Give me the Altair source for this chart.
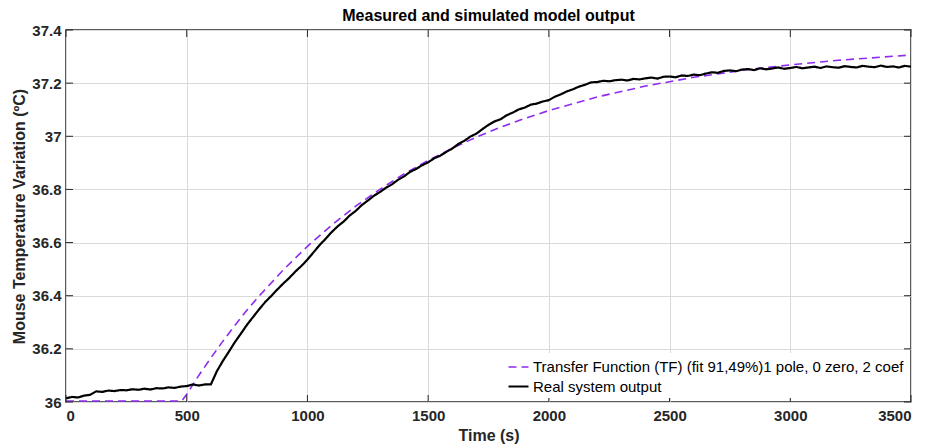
import altair as alt
import pandas as pd

# ---------------- data ----------------
TF_LABEL = "Transfer Function (TF) (fit 91,49%)1 pole, 0 zero, 2 coef"
REAL_LABEL = "Real system output"

real_time = list(range(0, 3501, 25))
real_temp = [
    36.014, 36.019, 36.017, 36.024, 36.027, 36.040, 36.038, 36.043, 36.041, 36.045,
    36.044, 36.048, 36.046, 36.050, 36.047, 36.052, 36.051, 36.055, 36.053, 36.058,
    36.060, 36.066, 36.062, 36.066, 36.066, 36.116, 36.155, 36.190, 36.226, 36.258,
    36.291, 36.320, 36.349, 36.376, 36.399, 36.423, 36.446, 36.467, 36.491, 36.512,
    36.536, 36.563, 36.590, 36.614, 36.639, 36.661, 36.679, 36.702, 36.719, 36.741,
    36.758, 36.776, 36.790, 36.806, 36.819, 36.836, 36.849, 36.866, 36.877, 36.891,
    36.902, 36.917, 36.927, 36.941, 36.954, 36.971, 36.983, 36.999, 37.010, 37.027,
    37.043, 37.056, 37.064, 37.079, 37.089, 37.101, 37.108, 37.119, 37.123, 37.131,
    37.136, 37.149, 37.158, 37.169, 37.177, 37.187, 37.194, 37.203, 37.204, 37.209,
    37.207, 37.211, 37.213, 37.210, 37.216, 37.214, 37.218, 37.221, 37.217, 37.224,
    37.225, 37.222, 37.229, 37.227, 37.232, 37.230, 37.236, 37.241, 37.239, 37.246,
    37.248, 37.245, 37.251, 37.253, 37.249, 37.256, 37.252, 37.255, 37.259, 37.254,
    37.257, 37.261, 37.256, 37.259, 37.262, 37.257, 37.263, 37.260, 37.258, 37.264,
    37.261, 37.259, 37.265, 37.262, 37.260, 37.266, 37.261, 37.263, 37.259, 37.265,
    37.262,
]

tf_time = [0, 480, 500, 550, 600, 650, 700, 750, 800, 900, 1000, 1100, 1200, 1300,
           1400, 1500, 1600, 1700, 1800, 1900, 2000, 2200, 2400, 2600, 2800, 3000,
           3200, 3500]
tf_temp = [36.004, 36.004, 36.029, 36.100, 36.166, 36.229, 36.289, 36.346, 36.399,
           36.497, 36.586, 36.665, 36.737, 36.800, 36.858, 36.909, 36.955, 36.997,
           37.034, 37.067, 37.097, 37.148, 37.189, 37.222, 37.248, 37.269, 37.286,
           37.306]

x_ticks = [0, 500, 1000, 1500, 2000, 2500, 3000, 3500]
y_ticks = [36.0, 36.2, 36.4, 36.6, 36.8, 37.0, 37.2, 37.4]

assert len(real_time) == len(real_temp)
assert len(tf_time) == len(tf_temp)

df = pd.concat([
    pd.DataFrame({"t": tf_time, "v": tf_temp, "series": TF_LABEL}),
    pd.DataFrame({"t": real_time, "v": real_temp, "series": REAL_LABEL}),
], ignore_index=True)
xt = pd.DataFrame({"v": x_ticks})
yt = pd.DataFrame({"v": y_ticks})

W, H = 845, 372
FONT = "Liberation Sans"
DARK = "#262626"

x_scale = alt.Scale(domain=[0, 3500], nice=False, zero=False)
y_scale = alt.Scale(domain=[36, 37.4], nice=False, zero=False)

base = alt.Chart(df).mark_line(clip=True).encode(
    x=alt.X("t:Q", scale=x_scale, title="Time (s)",
            axis=alt.Axis(values=x_ticks, format="d", labelPadding=6,
                          titlePadding=4)),
    y=alt.Y("v:Q", scale=y_scale, title="Mouse Temperature Variation (ºC)",
            axis=alt.Axis(values=y_ticks, format="~g", labelPadding=5,
                          titlePadding=4)),
    color=alt.Color("series:N",
                    scale=alt.Scale(domain=[TF_LABEL, REAL_LABEL],
                                    range=["#8f2bf0", "#000000"]),
                    legend=alt.Legend(title=None, orient="none",
                                      legendX=438, legendY=323,
                                      fillColor="white", padding=3,
                                      symbolType="stroke", symbolSize=400,
                                      symbolStrokeWidth=1.6, labelFontSize=15,
                                      labelFont=FONT, labelOffset=3,
                                      labelLimit=600, rowPadding=-2,
                                      labelColor="#000000")),
    strokeDash=alt.StrokeDash("series:N",
                              scale=alt.Scale(domain=[TF_LABEL, REAL_LABEL],
                                              range=[[8, 5], [1, 0]])),
    strokeWidth=alt.StrokeWidth("series:N",
                                scale=alt.Scale(domain=[TF_LABEL, REAL_LABEL],
                                                range=[1.6, 2.2]),
                                legend=None),
)

tf_line = base.transform_filter(alt.datum.series == TF_LABEL)
real_line = base.transform_filter(alt.datum.series == REAL_LABEL)

tick_style = dict(color=DARK, strokeWidth=1)
ticks_bottom = alt.Chart(xt).mark_rule(**tick_style).encode(
    x=alt.X("v:Q", scale=x_scale), y=alt.value(H), y2=alt.value(H - 7))
ticks_top = alt.Chart(xt).mark_rule(**tick_style).encode(
    x=alt.X("v:Q", scale=x_scale), y=alt.value(0), y2=alt.value(7))
ticks_left = alt.Chart(yt).mark_rule(**tick_style).encode(
    y=alt.Y("v:Q", scale=y_scale), x=alt.value(0), x2=alt.value(7))
ticks_right = alt.Chart(yt).mark_rule(**tick_style).encode(
    y=alt.Y("v:Q", scale=y_scale), x=alt.value(W), x2=alt.value(W - 7))

chart = alt.layer(
    tf_line, real_line, ticks_bottom, ticks_top, ticks_left, ticks_right
).properties(
    width=W, height=H,
    title=alt.TitleParams("Measured and simulated model output", font=FONT,
                          fontSize=16, fontWeight="bold", color="#000000",
                          anchor="middle", offset=-1),
    padding={"left": 58, "top": 22, "right": 10, "bottom": 47},
    autosize="none",
    background="white",
).configure_view(
    stroke=DARK, strokeWidth=1.5
).configure_axis(
    domain=False, ticks=False, grid=True, gridColor="#dadada", gridWidth=1,
    labelFont=FONT, labelFontSize=15, labelFontWeight="bold", labelColor=DARK,
    titleFont=FONT, titleFontSize=16, titleFontWeight="bold", titleColor=DARK,
)

chart.save("out.html", embed_options={"renderer": "svg", "actions": False})
